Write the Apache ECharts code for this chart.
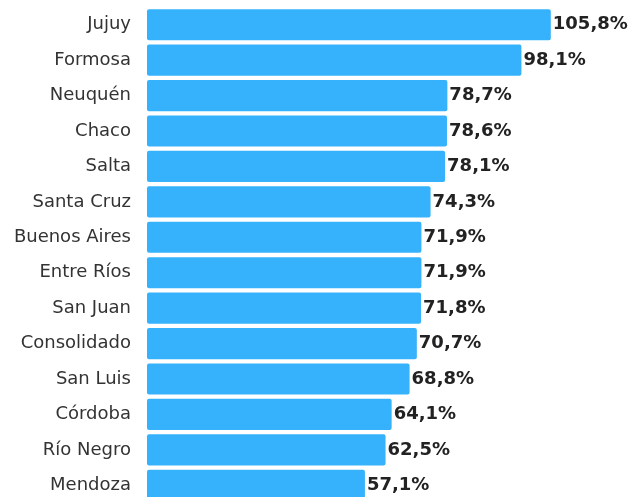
<!DOCTYPE html>
<html>
<head>
<meta charset="utf-8">
<script src="https://cdn.jsdelivr.net/npm/echarts@6/dist/echarts.min.js"></script>
<style>
    html, body { margin: 0; padding: 0; background: #fff; }
    #main { width: 634px; height: 497px; }
</style>
</head>
<body>
<div id="main"></div>
<script>
// provincias, de arriba hacia abajo
var provincias = ['Jujuy', 'Formosa', 'Neuquén', 'Chaco', 'Salta', 'Santa Cruz', 'Buenos Aires',
    'Entre Ríos', 'San Juan', 'Consolidado', 'San Luis', 'Córdoba', 'Río Negro', 'Mendoza'];
var valores = [105.8, 98.1, 78.7, 78.6, 78.1, 74.3, 71.9, 71.9, 71.8, 70.7, 68.8, 64.1, 62.5, 57.1];

var myChart = echarts.init(document.getElementById('main'));
var option = {
    animation: false,
    grid: {
        left: 147,
        width: 458,
        top: 7,
        height: 496,
        outerBoundsMode: 'none'
    },
    xAxis: {
        type: 'value',
        min: 0,
        max: 120,
        show: false
    },
    yAxis: {
        type: 'category',
        inverse: true,
        data: provincias,
        axisLine: {show: false},
        axisTick: {show: false},
        axisLabel: {
            margin: 16,
            color: '#333',
            fontSize: 18,
            fontFamily: '"DejaVu Sans", sans-serif'
        }
    },
    series: [{
        type: 'bar',
        data: valores,
        barCategoryGap: '12%',
        itemStyle: {
            color: '#36b2fd',
            borderRadius: 2
        },
        label: {
            show: true,
            position: 'right',
            distance: 2,
            color: '#222',
            fontSize: 18,
            fontWeight: 'bold',
            fontFamily: '"DejaVu Sans", sans-serif',
            formatter: function (p) {
                return p.value.toFixed(1).replace('.', ',') + '%';
            }
        }
    }]
};
myChart.setOption(option);
</script>
</body>
</html>
